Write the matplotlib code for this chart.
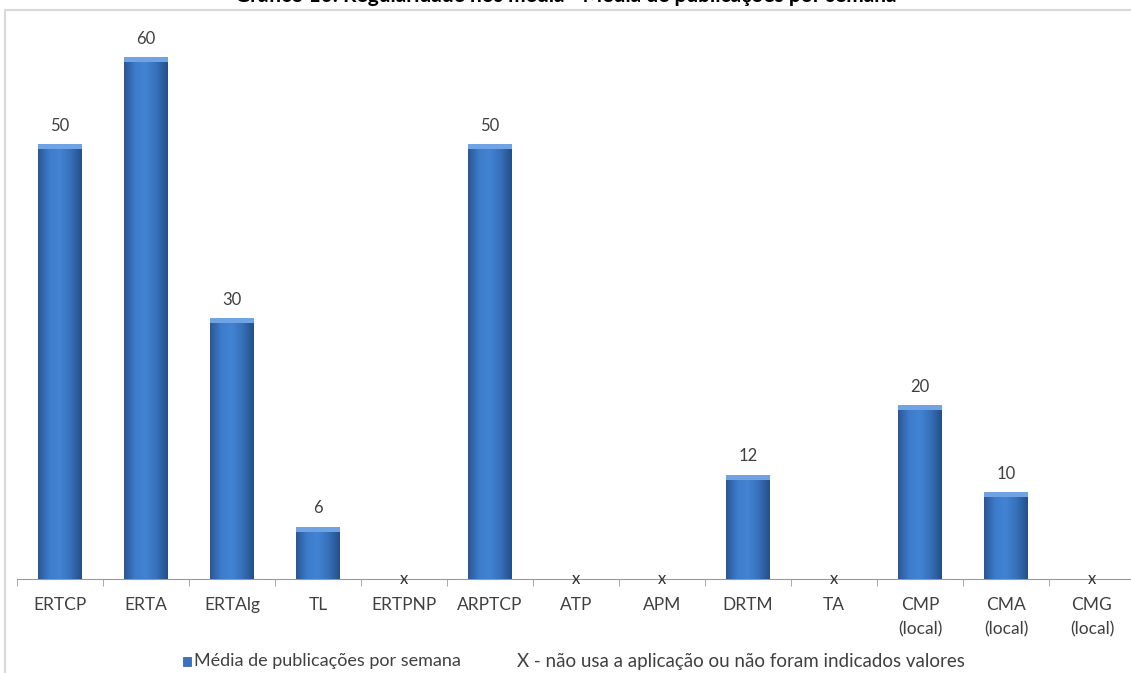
import numpy as np
import matplotlib.pyplot as plt
from matplotlib.patches import Rectangle
from matplotlib.colors import LinearSegmentedColormap

# weekly publication averages per outlet; None = no value given
categorias = ["ERTCP", "ERTA", "ERTAlg", "TL", "ERTPNP", "ARPTCP", "ATP", "APM",
              "DRTM", "TA", "CMP\n(local)", "CMA\n(local)", "CMG\n(local)"]
media = [50, 60, 30, 6, None, 50, None, None, 12, None, 20, 10, None]

titulo = "Gráfico 10: Regularidade nos media - Média de publicações por semana"
legenda_serie = "Média de publicações por semana"
legenda_x = "X - não usa a aplicação ou não foram indicados valores"

plt.rcParams['font.family'] = ['Lato', 'DejaVu Sans']
texto = "#404040"

fig = plt.figure(figsize=(11.31, 6.73), dpi=100)
W, H = 1131, 673

# outer chart frame (runs off the right and bottom edge)
fig.patches.append(Rectangle((5 / W, -0.2), 1.2, 1.2 - 10 / H,
                             transform=fig.transFigure, fill=False,
                             edgecolor="#d9d9d9", lw=1.5))
# title sits above the frame, mostly beyond the top edge
fig.text(0.5, 1 - 2 / H, titulo, ha="center", va="baseline",
         fontsize=15, fontweight="bold", color="black")

ax = fig.add_axes([17 / W, (H - 579) / H, 1118 / W, 574 / H])
ax.set_xlim(-0.5, len(categorias) - 0.5)
ax.set_ylim(0, 66)
x = np.arange(len(categorias))
valores = [v if v is not None else 0 for v in media]
barras = ax.bar(x, valores, width=0.51, color="#3a72bd", zorder=2)

# shaded cylinder look for each bar
cmap = LinearSegmentedColormap.from_list("azul", ["#2b5797", "#3d7ccb", "#4283d3", "#3670b8", "#264f8a"])
grad = np.linspace(0, 1, 64).reshape(1, -1)
for b, v in zip(barras, media):
    if v is None:
        continue
    x0, w, h = b.get_x(), b.get_width(), b.get_height()
    im = ax.imshow(grad, cmap=cmap, aspect="auto", extent=[x0, x0 + w, 0, h], zorder=3)
    im.set_clip_path(b)
    ax.add_patch(Rectangle((x0, h - 0.6), w, 0.6, color="#6fa3e3", zorder=4, lw=0))

for xi, v in zip(x, media):
    if v is None:
        ax.text(xi, 0, "x", ha="center", va="center", fontsize=12, color="#303030", zorder=5)
    else:
        ax.text(xi, v + 1.2, str(v), ha="center", va="bottom", fontsize=12, color=texto)

ax.set_xticks(x)
ax.set_xticklabels(categorias, fontsize=12.5, color=texto, linespacing=1.6)
ax.set_xticks(np.arange(len(categorias) + 1) - 0.5, minor=True)
ax.tick_params(axis="x", which="major", length=0, pad=13)
ax.tick_params(axis="x", which="minor", length=5, color="#9a9a9a")
ax.set_yticks([])
for s in ["top", "right", "left"]:
    ax.spines[s].set_visible(False)
ax.spines["bottom"].set_color("#9a9a9a")
ax.set_facecolor("none")

# legend line
fig.patches.append(Rectangle((183 / W, 1 - 666 / H), 8 / W, 9 / H,
                             transform=fig.transFigure, facecolor="#3a72bd",
                             edgecolor="#2b5797", lw=0.5))
fig.text(194 / W, 1 - 661 / H, legenda_serie, ha="left", va="center", fontsize=13, color=texto)
fig.text(517 / W, 1 - 661 / H, legenda_x, ha="left", va="center", fontsize=13.5, color=texto)

fig.savefig("out.png", dpi=100)
